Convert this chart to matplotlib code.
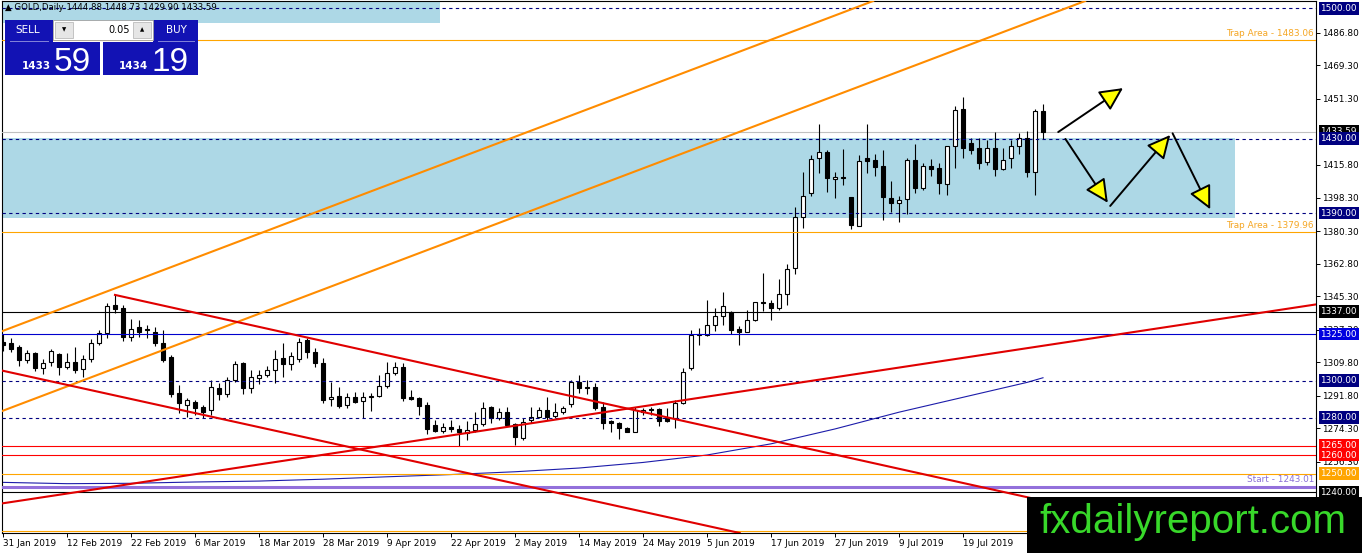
import matplotlib
matplotlib.use('Agg')
import matplotlib.pyplot as plt
import matplotlib.transforms as mtransforms
from matplotlib.patches import Rectangle, FancyArrowPatch
import numpy as np

# GOLD daily candles, 31 Jan 2019 .. 2 Aug 2019
opens = [1320.5, 1320.4, 1317.9, 1311.1, 1314.7, 1306.6, 1309.7, 1314.2, 1307.5, 1309.7,
         1306.1, 1311.8, 1320.4, 1325.8, 1340.5, 1338.9, 1323.6, 1328.7, 1327.6, 1326.3,
         1320.1, 1312.5, 1293.2, 1286.9, 1288.7, 1286.0, 1284.2, 1296.2, 1292.8, 1300.3,
         1309.3, 1295.9, 1301.6, 1303.0, 1305.7, 1312.3, 1308.8, 1311.6, 1321.8, 1315.2,
         1309.3, 1290.1, 1291.9, 1286.9, 1291.4, 1289.1, 1291.0, 1291.8, 1297.3, 1303.9,
         1307.5, 1291.4, 1290.5, 1286.9, 1276.3, 1272.9, 1275.3, 1274.0, 1271.7, 1273.5,
         1276.5, 1286.0, 1279.7, 1283.0, 1276.5, 1269.0, 1278.8, 1280.6, 1284.2, 1281.2,
         1283.0, 1287.3, 1299.1, 1296.1, 1296.8, 1286.0, 1277.6, 1277.0, 1274.4, 1272.6,
         1283.0, 1284.2, 1284.7, 1280.1, 1280.1, 1287.8, 1306.6, 1324.6, 1324.5, 1329.9,
         1334.9, 1336.7, 1327.6, 1326.3, 1332.6, 1341.8, 1341.5, 1339.2, 1346.4, 1360.3,
         1387.6, 1400.7, 1419.5, 1423.0, 1408.3, 1409.5, 1398.4, 1383.2, 1419.4, 1418.5,
         1415.4, 1398.2, 1395.2, 1397.4, 1418.5, 1403.6, 1415.4, 1414.0, 1405.6, 1426.2,
         1445.9, 1427.4, 1424.8, 1417.2, 1425.1, 1413.7, 1419.6, 1426.2, 1430.5, 1412.2,
         1444.88]
highs = [1325.0, 1323.1, 1319.2, 1316.5, 1315.6, 1311.5, 1316.8, 1314.7, 1314.7, 1317.9,
         1313.8, 1322.2, 1327.2, 1341.9, 1346.0, 1340.7, 1332.9, 1332.6, 1329.9, 1328.7,
         1326.9, 1313.8, 1297.7, 1290.5, 1289.6, 1286.9, 1300.4, 1298.5, 1302.1, 1310.7,
         1310.2, 1305.7, 1305.7, 1308.0, 1316.5, 1320.0, 1315.2, 1323.1, 1322.7, 1317.7,
         1312.0, 1299.4, 1296.8, 1293.2, 1293.7, 1294.1, 1293.2, 1303.0, 1310.2, 1310.2,
         1309.3, 1295.0, 1291.4, 1288.7, 1279.0, 1277.0, 1278.8, 1276.2, 1278.0, 1283.3,
         1288.7, 1286.5, 1285.5, 1286.0, 1277.0, 1279.7, 1286.0, 1286.0, 1290.9, 1287.8,
         1286.5, 1300.3, 1303.0, 1300.3, 1298.5, 1288.7, 1278.8, 1277.9, 1275.3, 1286.0,
         1285.1, 1286.0, 1285.5, 1285.1, 1289.6, 1306.6, 1327.2, 1328.1, 1343.3, 1339.2,
         1347.8, 1337.1, 1329.5, 1338.0, 1342.4, 1357.7, 1343.3, 1354.4, 1362.5, 1393.5,
         1412.3, 1421.2, 1438.0, 1423.9, 1412.2, 1424.4, 1398.4, 1421.2, 1437.7, 1421.5,
         1423.9, 1407.4, 1399.3, 1419.4, 1426.9, 1416.7, 1419.0, 1416.7, 1426.2, 1447.7,
         1452.5, 1430.1, 1430.1, 1429.2, 1433.7, 1424.8, 1429.2, 1432.8, 1434.1, 1445.9,
         1448.73]
lows = [1316.0, 1315.6, 1307.9, 1309.3, 1305.2, 1303.6, 1307.9, 1303.0, 1306.1, 1304.3,
        1302.1, 1310.2, 1319.2, 1322.7, 1336.5, 1321.0, 1321.0, 1323.6, 1322.7, 1318.3,
        1310.2, 1291.4, 1282.4, 1280.6, 1281.5, 1279.7, 1281.5, 1289.6, 1291.4, 1299.4,
        1292.6, 1293.5, 1298.0, 1302.1, 1298.5, 1302.1, 1305.7, 1310.2, 1312.3, 1307.5,
        1287.8, 1286.5, 1285.5, 1285.1, 1287.8, 1280.1, 1283.7, 1290.9, 1296.2, 1303.0,
        1289.1, 1289.6, 1281.5, 1271.5, 1272.2, 1271.7, 1272.6, 1265.0, 1268.1, 1272.6,
        1275.8, 1277.0, 1278.8, 1275.8, 1265.4, 1268.1, 1277.0, 1279.7, 1278.8, 1279.7,
        1281.9, 1286.0, 1293.2, 1292.6, 1284.2, 1274.0, 1272.6, 1268.6, 1272.2, 1272.2,
        1281.5, 1281.5, 1275.8, 1277.9, 1274.7, 1287.3, 1305.7, 1319.2, 1324.2, 1326.7,
        1329.9, 1324.9, 1319.2, 1326.0, 1332.1, 1337.1, 1332.6, 1338.0, 1340.6, 1357.1,
        1382.2, 1399.4, 1411.4, 1401.5, 1397.9, 1405.1, 1381.4, 1383.2, 1411.3, 1410.1,
        1386.2, 1390.7, 1385.4, 1389.3, 1400.9, 1402.4, 1410.1, 1400.0, 1399.7, 1414.0,
        1419.4, 1421.5, 1413.7, 1415.8, 1410.1, 1413.1, 1414.0, 1421.5, 1409.5, 1399.7,
        1429.90]
closes = [1319.0, 1317.0, 1311.1, 1314.7, 1306.6, 1309.3, 1316.1, 1307.5, 1309.7, 1305.4,
          1311.8, 1320.0, 1325.8, 1340.1, 1338.3, 1323.6, 1327.8, 1326.3, 1326.9, 1320.1,
          1311.1, 1292.8, 1287.8, 1289.3, 1285.1, 1283.3, 1296.4, 1292.8, 1300.3, 1308.8,
          1295.9, 1302.1, 1303.0, 1305.7, 1311.6, 1308.8, 1313.4, 1320.9, 1315.2, 1309.3,
          1289.6, 1291.4, 1286.5, 1291.4, 1288.7, 1291.4, 1291.5, 1297.3, 1303.9, 1307.5,
          1290.5, 1290.1, 1286.5, 1274.0, 1272.8, 1275.3, 1274.0, 1272.6, 1273.5, 1276.5,
          1285.5, 1279.7, 1283.0, 1276.2, 1269.9, 1277.9, 1280.6, 1284.2, 1280.6, 1283.0,
          1285.5, 1299.1, 1296.2, 1295.8, 1285.5, 1277.0, 1277.4, 1274.4, 1272.6, 1284.2,
          1284.2, 1284.0, 1278.4, 1278.3, 1287.8, 1304.8, 1324.5, 1325.2, 1329.9, 1334.9,
          1340.1, 1327.2, 1326.1, 1332.6, 1342.1, 1341.5, 1339.2, 1346.4, 1360.0, 1388.1,
          1398.9, 1419.1, 1423.0, 1408.7, 1409.5, 1409.0, 1383.6, 1418.1, 1418.0, 1414.9,
          1398.8, 1395.2, 1397.0, 1418.5, 1403.3, 1415.4, 1413.7, 1405.9, 1426.2, 1445.4,
          1424.8, 1423.9, 1416.7, 1425.1, 1413.7, 1418.5, 1426.2, 1430.1, 1412.2, 1445.0,
          1433.59]

# moving average (sampled every 8 bars)
ma_bars = [0, 8, 16, 24, 32, 40, 48, 56, 64, 72, 80, 88, 96, 104, 112, 120, 128, 130]
ma_vals = [1245.3, 1244.6, 1244.8, 1245.5, 1246.0, 1247.0, 1248.3, 1249.5, 1251.0,
           1253.0, 1256.0, 1260.0, 1266.0, 1274.0, 1283.0, 1291.0, 1299.0, 1301.5]

date_labels = ['31 Jan 2019', '12 Feb 2019', '22 Feb 2019', '6 Mar 2019', '18 Mar 2019',
               '28 Mar 2019', '9 Apr 2019', '22 Apr 2019', '2 May 2019', '14 May 2019',
               '24 May 2019', '5 Jun 2019', '17 Jun 2019', '27 Jun 2019', '9 Jul 2019',
               '19 Jul 2019']
price_ticks = [1486.80, 1469.30, 1451.30, 1415.80, 1398.30, 1380.30, 1362.80, 1345.30,
               1327.30, 1309.80, 1291.80, 1274.30, 1256.30]

# horizontal levels and their look
levels = [1500.00, 1483.06, 1433.59, 1430.00, 1390.00, 1379.96, 1337.00, 1325.00,
          1300.00, 1280.00, 1265.00, 1260.00, 1250.00, 1243.01, 1240.00, 1219.00]
level_styles = ['dash', 'orange', 'bid', 'dash', 'dash', 'orange', 'black', 'blue',
                'dash', 'dash', 'red', 'red', 'orange', 'purple', 'black', 'orange']
boxed = [1500.00, 1433.59, 1430.00, 1390.00, 1337.00, 1325.00, 1300.00, 1280.00,
         1265.00, 1260.00, 1250.00, 1240.00]
boxed_colors = ['#000080', 'black', '#000080', '#000080', 'black', '#0000e0', '#000080',
                '#000080', '#ff0000', '#ff0000', '#ffa500', 'black']

# zones (bar from, bar to, price low, price high)
zone_main = (-5, 154.0, 1387.2, 1430.5)
zone_top = (-5, 54.6, 1492.1, 1510.0)

# trend lines as two anchor points (bar, price)
orange_upper = [(-0.375, 1326.1), (108.125, 1502.85)]
orange_lower = [(-0.375, 1283.2), (134.625, 1502.85)]
red_desc_upper = [(14.0, 1346.0), (85.875, 1277.5)]
red_desc_lower = [(-0.375, 1305.6), (90.5, 1219.6)]
red_asc = [(52.125, 1268.0), (164.125, 1340.9)]

# scenario arrows
arrows = [((131.9, 1433.5), (140.0, 1457.1)),
          ((132.8, 1429.8), (138.1, 1395.5)),
          ((138.4, 1393.8), (145.9, 1431.9)),
          ((146.2, 1432.8), (150.9, 1392.0))]

W, H = 1362, 553
fig = plt.figure(figsize=(W / 100, H / 100), dpi=100)


def fx(px):
    return px / W


def fy(py):
    return 1 - py / H


ax = fig.add_axes([fx(2), fy(533), (1316 - 2) / W, (533 - 1) / H])
ax.set_xlim(-0.125, 164.125)
ax.set_ylim(1218.1, 1503.9)

# zones
for z in (zone_main, zone_top):
    ax.add_patch(Rectangle((z[0], z[2]), z[1] - z[0], z[3] - z[2],
                           facecolor='#add8e6', edgecolor='none', zorder=1))

# moving average
ax.plot(ma_bars, ma_vals, color='#1c1caa', lw=0.8, zorder=2)

# candles
o = np.array(opens)
h = np.array(highs)
l = np.array(lows)
c = np.array(closes)
idx = np.arange(len(o))
up = c >= o
ax.vlines(idx, l, h, color='black', lw=0.8, zorder=4)
ax.bar(idx, np.maximum(np.abs(c - o), 0.6), bottom=np.minimum(o, c), width=0.62,
       color=np.where(up, 'white', 'black'), edgecolor='black', linewidth=0.8, zorder=5)

# horizontal levels
for lv, st in zip(levels, level_styles):
    if st == 'dash':
        ax.axhline(lv, color='#000080', lw=0.8, ls=(0, (3, 3)), zorder=6)
    elif st == 'orange':
        ax.axhline(lv, color='#ffa500', lw=0.8, zorder=6)
    elif st == 'bid':
        ax.axhline(lv, color='#c0c0c0', lw=0.8, zorder=3)
    elif st == 'black':
        ax.axhline(lv, color='black', lw=0.8, zorder=6)
    elif st == 'blue':
        ax.axhline(lv, color='#0000cd', lw=0.8, zorder=6)
    elif st == 'red':
        ax.axhline(lv, color='#ff0000', lw=0.8, zorder=6)
    elif st == 'purple':
        ax.axhline(lv, color='#9370db', lw=2.2, zorder=6)

# trend lines
ax.axline(*orange_upper, color='#ff8c00', lw=1.5, zorder=7)
ax.axline(*orange_lower, color='#ff8c00', lw=1.5, zorder=7)
ax.axline(*red_desc_lower, color='#e00000', lw=1.5, zorder=7)
ax.axline(*red_asc, color='#e00000', lw=1.5, zorder=7)
(b0, p0), (b1, p1) = red_desc_upper
slope = (p1 - p0) / (b1 - b0)
ax.plot([b0, 170], [p0, p0 + slope * (170 - b0)], color='#e00000', lw=1.5, zorder=7)

for start, end in arrows:
    ax.add_patch(FancyArrowPatch(start, end, arrowstyle='-|>,head_length=0.65,head_width=0.32',
                                 mutation_scale=22, shrinkA=0, shrinkB=0, lw=1.4,
                                 edgecolor='black', facecolor='#ffff00', zorder=8))

# level captions
trans = mtransforms.blended_transform_factory(ax.transAxes, ax.transData)
ax.text(0.9985, 1483.06 + 1.0, 'Trap Area - 1483.06', transform=trans, ha='right',
        va='bottom', fontsize=6.4, color='#f5a623', zorder=8)
ax.text(0.9985, 1379.96 + 1.0, 'Trap Area - 1379.96', transform=trans, ha='right',
        va='bottom', fontsize=6.4, color='#f5a623', zorder=8)
ax.text(0.9985, 1243.01 + 1.5, 'Start - 1243.01', transform=trans, ha='right',
        va='bottom', fontsize=6.4, color='#8a6fd6', zorder=8)

# axes styling
for sp in ax.spines.values():
    sp.set_linewidth(0.8)
    sp.set_color('black')
ax.yaxis.tick_right()
ax.set_yticks(price_ticks)
ax.set_yticklabels(['%.2f' % t for t in price_ticks])
ax.tick_params(axis='y', direction='out', length=3, width=0.7, labelsize=6.4, pad=1.5)
ax.set_xticks(np.arange(0, 8 * len(date_labels), 8))
ax.set_xticklabels(date_labels)
for t in ax.get_xticklabels():
    t.set_ha('left')
ax.tick_params(axis='x', direction='out', length=3, width=0.7, labelsize=6.4, pad=1.5)

trans_lab = mtransforms.offset_copy(trans, fig=fig, x=4.5, y=0, units='dots')
for lv, col in zip(boxed, boxed_colors):
    ax.text(1.0, lv, '%.2f' % lv, transform=trans_lab, ha='left', va='center',
            fontsize=6.4, color='white', clip_on=False, zorder=9,
            bbox=dict(boxstyle='square,pad=0.22', facecolor=col, edgecolor='none'))

# header text
fig.text(fx(5), fy(8), '\u25b2 GOLD,Daily 1444.88 1448.73 1429.90 1433.59', fontsize=6.2,
         va='center', ha='left', color='black', zorder=11)


# one-click trading panel
def prect(x0, y0, x1, y1, **kw):
    fig.patches.append(Rectangle((fx(x0), fy(y1)), (x1 - x0) / W, (y1 - y0) / H,
                                 transform=fig.transFigure, zorder=11, **kw))


panel_blue = '#1212b4'
prect(5, 20, 53, 42, facecolor=panel_blue, edgecolor='none')
prect(5, 42, 100, 75, facecolor=panel_blue, edgecolor='none')
prect(153, 20, 198, 42, facecolor=panel_blue, edgecolor='none')
prect(103, 42, 198, 75, facecolor=panel_blue, edgecolor='none')
prect(53, 20, 153, 40, facecolor='white', edgecolor='#a0a0a0', lw=0.6)
prect(55, 22, 73, 38, facecolor='#e6e6e6', edgecolor='#b0b0b0', lw=0.5)
prect(133, 22, 151, 38, facecolor='#e6e6e6', edgecolor='#b0b0b0', lw=0.5)
prect(10, 41, 49, 42, facecolor='#8080d8', edgecolor='none')
prect(158, 41, 195, 42, facecolor='#8080d8', edgecolor='none')
fig.text(fx(28), fy(30), 'SELL', color='white', fontsize=7.5, ha='center', va='center', zorder=12)
fig.text(fx(176), fy(30), 'BUY', color='white', fontsize=7.5, ha='center', va='center', zorder=12)
fig.text(fx(64), fy(30), '\u25bc', color='black', fontsize=4, ha='center', va='center', zorder=12)
fig.text(fx(142), fy(30), '\u25b2', color='black', fontsize=4, ha='center', va='center', zorder=12)
fig.text(fx(130), fy(30), '0.05', color='black', fontsize=7, ha='right', va='center', zorder=12)
fig.text(fx(22), fy(69), '1433', color='white', fontsize=7.5, ha='left', va='baseline',
         weight='bold', zorder=12)
fig.text(fx(54), fy(71), '59', color='white', fontsize=24, ha='left', va='baseline',
         family='Liberation Sans', zorder=12)
fig.text(fx(119), fy(69), '1434', color='white', fontsize=7.5, ha='left', va='baseline',
         weight='bold', zorder=12)
fig.text(fx(152), fy(71), '19', color='white', fontsize=24, ha='left', va='baseline',
         family='Liberation Sans', zorder=12)

# site logo
prect(1027, 497, 1362, 553, facecolor='black', edgecolor='none')
fig.text(fx(1193), fy(522), 'fxdailyreport.com', color='#38d82a', fontsize=29,
         family='Liberation Sans', ha='center', va='center', zorder=12)

fig.savefig('out.png', dpi=100)
